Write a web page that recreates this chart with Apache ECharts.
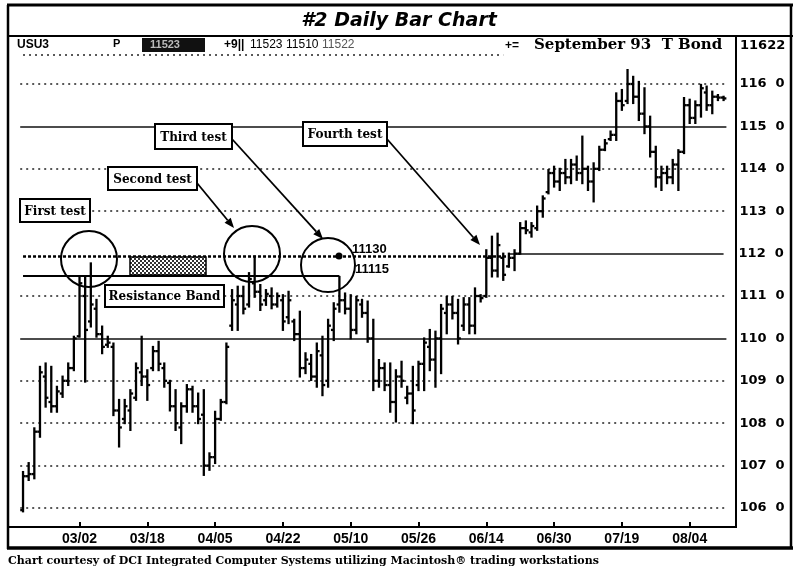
<!DOCTYPE html>
<html>
<head>
<meta charset="utf-8">
<script src="https://cdn.jsdelivr.net/npm/echarts@6.0.0/dist/echarts.min.js"></script>
<style>
  html, body { margin: 0; padding: 0; background: #fff; }
  #chart { width: 794px; height: 572px; }
</style>
</head>
<body>
<div id="chart"></div>
<script>
// Trading days, September 93 T-Bond futures (USU3)
const dates = ['02/16','02/17','02/18','02/19','02/22','02/23','02/24','02/25','02/26','03/01',
  '03/02','03/03','03/04','03/05','03/08','03/09','03/10','03/11','03/12','03/15','03/16','03/17',
  '03/18','03/19','03/22','03/23','03/24','03/25','03/26','03/29','03/30','03/31','04/01','04/02',
  '04/05','04/06','04/07','04/08','04/12','04/13','04/14','04/15','04/16','04/19','04/20','04/21',
  '04/22','04/23','04/26','04/27','04/28','04/29','04/30','05/03','05/04','05/05','05/06','05/07',
  '05/10','05/11','05/12','05/13','05/14','05/17','05/18','05/19','05/20','05/21','05/24','05/25',
  '05/26','05/27','05/28','06/01','06/02','06/03','06/04','06/07','06/08','06/09','06/10','06/11',
  '06/14','06/15','06/16','06/17','06/18','06/21','06/22','06/23','06/24','06/25','06/28','06/29',
  '06/30','07/01','07/02','07/06','07/07','07/08','07/09','07/12','07/13','07/14','07/15','07/16',
  '07/19','07/20','07/21','07/22','07/23','07/26','07/27','07/28','07/29','07/30','08/02','08/03',
  '08/04','08/05','08/06','08/09','08/10','08/11','08/12'];

const dateTicks = ['03/02','03/18','04/05','04/22','05/10','05/26','06/14','06/30','07/19','08/04'];

const opens = [105.95,106.75,106.80,107.80,109.10,108.50,108.40,108.70,109.00,109.30,
  110.05,111.00,110.40,110.70,110.10,109.85,109.80,108.30,108.10,108.30,
  108.60,109.20,109.10,109.30,109.70,109.30,108.95,108.40,107.90,108.40,
  108.80,108.40,108.20,107.00,107.20,108.10,108.50,110.30,110.80,111.00,
  110.80,111.30,111.10,110.90,111.00,110.80,110.90,110.50,110.40,110.10,
  109.30,109.40,109.10,109.60,109.00,110.20,110.80,110.90,110.70,110.20,
  110.80,110.60,110.00,109.00,109.30,108.90,108.50,109.10,108.60,108.70,
  108.90,109.40,109.80,109.50,110.00,110.60,110.80,110.60,110.30,110.80,
  110.30,111.00,111.00,111.90,111.60,111.90,111.70,111.90,112.00,112.60,
  112.50,112.60,113.00,113.45,113.90,113.70,113.90,113.80,114.10,113.90,
  114.00,113.70,114.00,114.45,114.70,114.80,115.60,115.60,116.00,115.70,
  115.30,115.00,114.40,113.80,113.90,113.80,114.10,114.40,115.50,115.20,
  115.50,115.80,115.50,115.70,115.68];

const highs = [106.85,107.06,107.88,109.33,109.41,109.33,108.86,109.10,109.41,110.04,
  111.46,111.46,111.77,110.91,110.28,110.04,109.88,108.55,108.55,108.78,
  109.41,110.04,109.25,109.80,109.92,109.41,109.00,108.78,108.47,108.90,
  108.86,108.70,108.78,107.29,108.27,108.55,109.88,111.14,111.22,111.22,
  111.54,111.93,111.26,111.14,111.18,111.06,111.02,111.10,110.44,110.63,
  109.65,109.61,109.88,110.04,110.44,110.83,111.45,111.06,111.02,110.98,
  110.91,110.87,110.44,109.49,109.41,109.41,109.25,109.45,108.86,109.33,
  109.45,110.00,110.20,110.16,110.79,110.98,110.98,110.91,110.95,110.95,
  111.18,111.02,112.08,112.40,112.47,112.00,112.00,112.08,112.72,112.76,
  112.72,113.11,113.35,113.97,114.05,114.00,114.21,114.21,114.29,114.76,
  114.05,114.13,114.52,114.68,114.88,115.78,115.86,116.33,116.17,116.05,
  115.90,115.23,114.52,114.05,114.05,114.21,114.44,115.67,115.63,115.59,
  115.98,115.94,115.82,115.74,115.70];

const lows = [105.92,106.66,106.70,107.68,108.39,108.27,108.27,108.62,108.90,109.25,
  110.04,108.98,110.28,110.04,109.65,109.80,108.19,107.45,108.00,107.84,
  108.55,108.90,108.55,109.25,109.25,108.86,108.30,107.84,107.53,108.27,
  108.27,108.00,106.78,106.90,107.06,108.08,108.47,110.20,110.20,110.59,
  110.75,110.98,110.67,110.79,110.71,110.75,110.20,110.36,109.96,109.10,
  109.18,109.02,108.86,108.66,108.86,109.96,110.63,110.59,110.00,110.12,
  110.51,109.92,108.78,108.86,108.78,108.27,108.04,108.86,108.47,108.00,
  108.78,108.78,109.25,108.86,109.18,110.12,110.47,109.88,110.20,110.12,
  110.12,110.87,110.98,111.46,111.46,111.38,111.69,111.61,112.00,112.48,
  112.40,112.56,112.87,113.42,113.58,113.50,113.66,113.66,113.74,113.66,
  113.50,113.23,113.97,114.44,114.68,114.68,115.39,115.55,115.55,115.15,
  114.84,114.29,113.58,113.50,113.66,113.66,113.50,114.37,115.08,115.08,
  115.23,115.39,115.31,115.62,115.62];

const closes = [106.75,106.80,107.80,109.20,108.60,108.40,108.75,109.00,109.30,110.00,
  111.30,110.20,110.80,110.10,109.80,109.90,108.30,107.90,108.40,108.70,
  109.30,109.10,108.90,109.70,109.40,109.00,108.40,108.00,108.40,108.80,
  108.40,108.10,107.00,107.20,108.10,108.50,109.80,110.90,111.00,110.70,
  111.40,111.10,110.80,111.05,110.80,111.00,110.40,110.90,110.10,109.30,
  109.50,109.10,109.70,108.90,110.30,110.70,110.90,110.70,110.20,110.90,
  110.60,110.00,109.00,109.30,108.90,108.50,109.10,109.00,108.70,108.30,
  109.40,109.90,109.50,110.00,110.70,110.80,110.60,110.00,110.80,110.30,
  111.00,110.95,111.90,111.60,112.20,111.50,111.90,112.00,112.60,112.55,
  112.65,113.00,113.30,113.90,113.70,113.90,113.80,114.10,113.90,114.00,
  113.70,114.00,114.45,114.60,114.80,115.60,115.50,116.00,115.70,115.30,
  115.00,114.40,113.80,113.90,113.80,114.10,114.40,115.50,115.20,115.50,
  115.90,115.50,115.70,115.68,115.66];

// Price levels (32nds written as decimals)
const dottedLevels = [106, 107, 108, 109, 111, 113, 114, 116];
const solidLevels = [110, 115];
const topQuote = 116 + 22 / 32;      // 11622
const bandHigh = 111 + 30 / 32;      // 11130
const bandLow = 111 + 15 / 32;       // 11115

const sans = '"Liberation Sans", Arial, sans-serif';
const wideSans = '"DejaVu Sans", "Liberation Sans", sans-serif';
const serif = '"DejaVu Serif", "Liberation Serif", serif';

const chart = echarts.init(document.getElementById('chart'), null, { renderer: 'canvas' });

const ohlc = dates.map((d, i) => [i, opens[i], highs[i], lows[i], closes[i]]);

function renderBar(params, api) {
  const i = api.value(0);
  const hi = api.coord([i, api.value(2)]);
  const lo = api.coord([i, api.value(3)]);
  const op = api.coord([i, api.value(1)]);
  const cl = api.coord([i, api.value(4)]);
  const t = 2.8;
  const st = { stroke: '#000', lineWidth: 2.3 };
  return {
    type: 'group',
    children: [
      { type: 'line', shape: { x1: hi[0], y1: hi[1] - 1, x2: lo[0], y2: lo[1] + 1 }, style: st },
      { type: 'line', shape: { x1: op[0] - t, y1: op[1], x2: op[0], y2: op[1] }, style: st },
      { type: 'line', shape: { x1: cl[0], y1: cl[1], x2: cl[0] + t, y2: cl[1] }, style: st }
    ]
  };
}

const axisFont = { color: '#000', fontFamily: wideSans, fontWeight: 'bold', fontSize: 13 };
function levelLabel(v) { return v + '  0'; }
const dotStyle = { type: [2, 4], color: '#222', width: 1.6 };
const solidStyle = { type: 'solid', color: '#111', width: 1.6 };

const markLines = [];
dottedLevels.forEach(v => markLines.push({
  yAxis: v,
  lineStyle: dotStyle,
  label: Object.assign({ show: true, position: 'end', distance: 13, formatter: levelLabel(v) }, axisFont)
}));
solidLevels.forEach(v => markLines.push({
  yAxis: v,
  lineStyle: solidStyle,
  label: Object.assign({ show: true, position: 'end', distance: 13, formatter: levelLabel(v) }, axisFont)
}));
// quote line at the top of the scale
markLines.push([
  { coord: [dates[0], topQuote], lineStyle: dotStyle, label: { show: false } },
  { coord: [dates[85], topQuote] }
]);
// 112 level, solid on the right
markLines.push([
  { coord: [dates[86], 112], lineStyle: solidStyle,
    label: Object.assign({ show: true, position: 'end', distance: 15, formatter: levelLabel(112) }, axisFont) },
  { coord: [dates[dates.length - 1], 112] }
]);
// resistance band limits
markLines.push([
  { coord: [dates[0], bandHigh], lineStyle: { type: [3, 2], color: '#000', width: 2.6 }, label: { show: false } },
  { coord: [dates[86], bandHigh] }
]);
markLines.push([
  { coord: [dates[0], bandLow], lineStyle: { type: 'solid', color: '#000', width: 1.8 }, label: { show: false } },
  { coord: [dates[56], bandLow] }
]);

// stipple fill for the resistance band marker
const pat = document.createElement('canvas');
pat.width = 4; pat.height = 4;
const pg = pat.getContext('2d');
pg.fillStyle = '#fff'; pg.fillRect(0, 0, 4, 4);
pg.fillStyle = '#333'; pg.fillRect(0, 0, 2, 2); pg.fillRect(2, 2, 2, 2);

function hline(x1, x2, y, w) {
  return { type: 'line', shape: { x1, y1: y, x2, y2: y }, style: { stroke: '#000', lineWidth: w }, z: 20 };
}
function vline(x, y1, y2, w) {
  return { type: 'line', shape: { x1: x, y1, x2: x, y2 }, style: { stroke: '#000', lineWidth: w }, z: 20 };
}
function txt(x, y, text, font, extra) {
  return { type: 'text', x, y, z: 22,
    style: Object.assign({ text, fill: '#000', font, textVerticalAlign: 'middle' }, extra || {}) };
}
function box(x, y, w, h, text, font) {
  return {
    type: 'group', z: 25,
    children: [
      { type: 'rect', shape: { x, y, width: w, height: h }, style: { fill: '#fff', stroke: '#000', lineWidth: 2 }, z: 25 },
      { type: 'text', x: x + w / 2, y: y + h / 2 + 1, z: 26,
        style: { text, font, fill: '#000', textAlign: 'center', textVerticalAlign: 'middle' } }
    ]
  };
}
function arrow(x1, y1, x2, y2) {
  const a = Math.atan2(y2 - y1, x2 - x1);
  const L = 10, W = 4;
  const bx = x2 - L * Math.cos(a), by = y2 - L * Math.sin(a);
  return {
    type: 'group', z: 24,
    children: [
      { type: 'line', shape: { x1, y1, x2: bx, y2: by }, style: { stroke: '#000', lineWidth: 1.8 }, z: 24 },
      { type: 'polygon', shape: { points: [[x2, y2], [bx + W * Math.sin(a), by - W * Math.cos(a)], [bx - W * Math.sin(a), by + W * Math.cos(a)]] },
        style: { fill: '#000' }, z: 24 }
    ]
  };
}
function ring(cx, cy, r) {
  return { type: 'circle', shape: { cx, cy, r }, style: { fill: 'none', stroke: '#000', lineWidth: 2 }, z: 24 };
}

const hdrFont = 'bold 11px ' + sans;
const numFont = '12px ' + sans;
const noteFont = 'bold 12px ' + serif;

const graphics = [
  // frame
  hline(7, 793, 5, 3),
  vline(8, 5, 549, 2.5),
  vline(791, 5, 549, 2.5),
  hline(7, 793, 36, 2),
  vline(736, 36, 527, 2),
  hline(7, 737, 527, 2),
  hline(7, 793, 548, 3.5),
  // title
  txt(399, 21, '#2 Daily Bar Chart', 'italic bold 19px ' + wideSans, { textAlign: 'center' }),
  // quote header
  txt(17, 45, 'USU3', 'bold 12px ' + sans),
  txt(113, 44, 'P', hdrFont),
  { type: 'rect', shape: { x: 142, y: 38, width: 63, height: 14 }, style: { fill: '#111' }, z: 21 },
  txt(150, 45, '11523', 'bold 11px ' + sans, { fill: '#bbb' }),
  txt(224, 45, '+9||', 'bold 12px ' + sans),
  txt(250, 45, '11523', numFont),
  txt(286, 45, '11510', numFont),
  txt(322, 45, '11522', numFont, { fill: '#555' }),
  txt(505, 46, '+=', 'bold 12px ' + sans),
  txt(534, 45, 'September 93  T Bond', 'bold 15px ' + serif),
  txt(740, 46, '11622', 'bold 13px ' + wideSans),
  // footer
  txt(8, 561, 'Chart courtesy of DCI Integrated Computer Systems utilizing Macintosh\u00ae trading workstations', 'bold 11px ' + serif),
  // annotations
  ring(89, 259, 28),
  ring(252, 254, 28),
  ring(328, 265, 27),
  { type: 'rect', shape: { x: 130, y: 257, width: 76, height: 18 },
    style: { fill: { image: pat, repeat: 'repeat' }, stroke: '#000', lineWidth: 1.5 }, z: 23 },
  { type: 'circle', shape: { cx: 339, cy: 256, r: 3.5 }, style: { fill: '#000' }, z: 24 },
  txt(352, 249, '11130', 'bold 13px ' + sans),
  txt(355, 269, '11115', 'bold 13px ' + sans),
  arrow(197, 183, 234, 228),
  arrow(232, 139, 323, 239),
  arrow(387, 139, 480, 245),
  box(20, 199, 70, 23, 'First test', noteFont),
  box(108, 167, 89, 23, 'Second test', noteFont),
  box(155, 124, 77, 25, 'Third test', noteFont),
  box(303, 122, 84, 24, 'Fourth test', noteFont),
  box(105, 285, 119, 22, 'Resistance Band', noteFont)
];

const showDate = (idx, val) => dateTicks.indexOf(val) >= 0;

chart.setOption({
  animation: false,
  backgroundColor: '#fff',
  grid: { left: 20.2, right: 67.6, top: 36, bottom: 45 },
  xAxis: {
    type: 'category',
    data: dates,
    boundaryGap: true,
    axisLine: { show: false },
    axisTick: { show: true, inside: true, length: 5, alignWithLabel: true, interval: showDate,
      lineStyle: { color: '#000', width: 2 } },
    axisLabel: { interval: showDate, margin: 5, color: '#000', fontFamily: sans, fontWeight: 'bold', fontSize: 14 },
    splitLine: { show: false }
  },
  yAxis: {
    type: 'value',
    min: 105.552,
    max: 117.132,
    show: false
  },
  series: [
    {
      type: 'line',
      data: dates.map(() => null),
      silent: true,
      symbol: 'none',
      markLine: { silent: true, symbol: 'none', precision: 5, data: markLines },
      z: 1
    },
    {
      type: 'custom',
      renderItem: renderBar,
      data: ohlc,
      encode: { x: 0, y: [1, 2, 3, 4] },
      clip: false,
      z: 5
    }
  ],
  graphic: graphics
});
</script>
</body>
</html>
